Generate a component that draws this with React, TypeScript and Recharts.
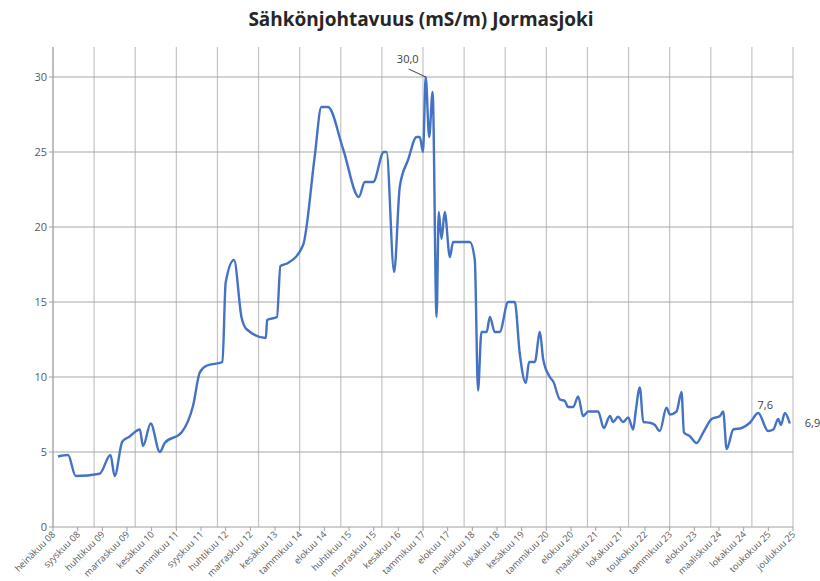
import React from "react";
import { LineChart, Line, XAxis, YAxis, CartesianGrid } from "recharts";

// x position in label units (0 = first label, 30 = last label)
const pos = [
  0.2, 0.61, 0.92, 1.89, 2.33, 2.5, 2.81, 3.08, 3.52, 3.65, 3.96, 4.33, 4.53, 5.21, 5.68, 5.95, 6.22, 6.87, 7.0, 7.34,
  7.64, 7.84, 8.63, 8.68, 9.08, 9.22, 9.53, 10.14, 10.61, 10.88, 11.15, 11.76, 12.4, 12.64, 12.98, 13.41, 13.52, 13.83, 14.06, 14.4,
  14.74, 14.87, 15.0, 15.11, 15.25, 15.39, 15.55, 15.64, 15.75, 15.88, 16.09, 16.22, 16.9, 17.1, 17.23, 17.37, 17.58, 17.71, 17.91, 18.11,
  18.45, 18.72, 18.92, 19.17, 19.3, 19.53, 19.74, 19.87, 20.14, 20.28, 20.55, 20.75, 20.88, 21.09, 21.29, 21.49, 21.7, 22.1, 22.33, 22.58,
  22.71, 22.91, 23.11, 23.32, 23.52, 23.63, 23.79, 23.93, 24.2, 24.4, 24.6, 24.87, 25.01, 25.28, 25.48, 25.58, 25.82, 26.09, 26.36, 26.7,
  27.04, 27.17, 27.31, 27.58, 27.92, 28.25, 28.59, 28.99, 29.2, 29.4, 29.51, 29.67, 29.87,
];

// Sähkönjohtavuus mS/m
const johtavuus = [
  4.7, 4.8, 3.4, 3.55, 4.8, 3.4, 5.7, 6.0, 6.5, 5.4, 6.9, 5.0, 5.6, 6.3, 8.1, 10.3, 10.75, 11.0, 16.3, 17.8,
  14.0, 13.2, 12.6, 13.8, 14.0, 17.4, 17.6, 18.8, 24.7, 28.0, 28.0, 25.2, 22.0, 23.0, 23.0, 25.0, 25.0, 17.0, 22.7, 24.5,
  26.0, 26.0, 25.0, 30.0, 26.0, 29.0, 14.0, 21.0, 19.2, 21.0, 18.0, 19.0, 19.0, 17.8, 9.1, 13.0, 13.0, 14.0, 13.0, 13.0,
  15.0, 15.0, 11.6, 9.6, 11.0, 11.0, 13.0, 11.2, 10.0, 9.7, 8.5, 8.4, 8.0, 8.0, 8.7, 7.4, 7.7, 7.7, 6.6, 7.4,
  7.0, 7.35, 7.0, 7.3, 6.5, 7.8, 9.3, 7.0, 6.95, 6.8, 6.4, 7.95, 7.5, 7.7, 9.0, 6.3, 6.05, 5.6, 6.3, 7.2,
  7.4, 7.7, 5.2, 6.5, 6.6, 6.95, 7.6, 6.4, 6.5, 7.2, 6.8, 7.6, 6.9,
];

const kuukaudet = [
  "heinäkuu 08", "syyskuu 08", "huhtikuu 09", "marraskuu 09", "kesäkuu 10", "tammikuu 11", "syyskuu 11",
  "huhtikuu 12", "marraskuu 12", "kesäkuu 13", "tammikuu 14", "elokuu 14", "huhtikuu 15", "marraskuu 15",
  "kesäkuu 16", "tammikuu 17", "elokuu 17", "maaliskuu 18", "lokakuu 18", "kesäkuu 19", "tammikuu 20",
  "elokuu 20", "maaliskuu 21", "lokakuu 21", "toukokuu 22", "tammikuu 23", "elokuu 23", "maaliskuu 24",
  "lokakuu 24", "toukokuu 25", "joulukuu 25",
];

const yTicks = [0, 5, 10, 15, 20, 25, 30];
// point indices carrying a data label
const labelled = [43, 106, 112];

const data = pos.map((x, i) => ({ x, v: johtavuus[i] }));
const xTicks = kuukaudet.map((_, i) => i);
const vGrid = Array.from({ length: 19 }, (_, k) => (k * 5) / 3);

const TEXT = "#595959";
const FONT = "'Open Sans', 'Liberation Sans', sans-serif";

const MonthTick = ({ x, y, payload }: any) => (
  <g transform={`translate(${x + 3},${y + 2})`}>
    <text transform="rotate(-45)" textAnchor="end" fontSize={9.2} fill={TEXT} fontFamily={FONT}>
      {kuukaudet[payload.value]}
    </text>
  </g>
);

const PointLabel = ({ x, y, index, value }: any) => {
  if (!labelled.includes(index)) return null;
  const txt = value.toFixed(1).replace(".", ",");
  if (index === labelled[0]) {
    return (
      <g>
        <line x1={x - 17} y1={y - 8} x2={x} y2={y} stroke="#404040" strokeWidth={1} />
        <text x={x - 18} y={y - 14} textAnchor="middle" fontSize={11} fill="#404040" fontFamily={FONT}>{txt}</text>
      </g>
    );
  }
  if (index === labelled[labelled.length - 1]) {
    return <text x={x + 15} y={y + 3} fontSize={11} fill="#404040" fontFamily={FONT}>{txt}</text>;
  }
  return <text x={x + 7} y={y - 4} textAnchor="middle" fontSize={11} fill="#404040" fontFamily={FONT}>{txt}</text>;
};

export default function App() {
  return (
    <div style={{ position: "absolute", left: 0, top: 0, width: 820, height: 581, background: "#fff" }}>
      <div
        style={{
          position: "absolute", left: 0, top: 6, width: 842, textAlign: "center",
          fontFamily: FONT, fontWeight: 700, fontSize: 19, color: "#262626",
        }}
      >
        Sähkönjohtavuus (mS/m) Jormasjoki
      </div>
      <LineChart width={820} height={581} data={data} margin={{ top: 47, right: 27, bottom: 0, left: 0 }}>
        <CartesianGrid horizontal={false} verticalValues={vGrid} stroke="#c4c4c4" strokeWidth={1.2} />
        <CartesianGrid vertical={false} horizontalValues={yTicks.slice(1)} stroke="#a8a8a8" strokeWidth={1.2} />
        <XAxis
          type="number" dataKey="x" domain={[0, 30]} ticks={xTicks} interval={0}
          height={54} tick={<MonthTick />} tickSize={4}
          axisLine={{ stroke: "#a0a0a0" }} tickLine={{ stroke: "#a0a0a0" }}
        />
        <YAxis
          type="number" domain={[0, 32]} ticks={yTicks} interval={0} width={53}
          tick={{ fontSize: 11, fill: TEXT, fontFamily: FONT }} tickSize={4}
          axisLine={{ stroke: "#a0a0a0" }} tickLine={{ stroke: "#a0a0a0" }}
        />
        <Line
          type="monotone" dataKey="v" stroke="#4472c4" strokeWidth={2.4} dot={false}
          isAnimationActive={false} label={<PointLabel />}
        />
      </LineChart>
    </div>
  );
}
